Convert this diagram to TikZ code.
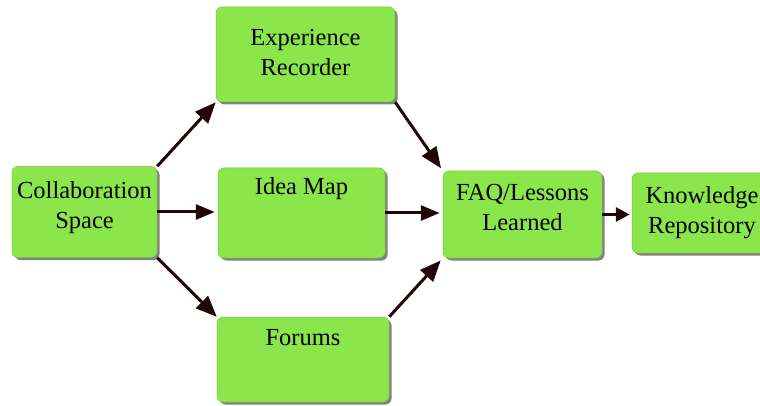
\documentclass[tikz,border=0pt]{standalone}
\usepackage{fontspec}
\setmainfont{Liberation Serif}
\newfontfamily\boxfont{Liberation Serif}
\usetikzlibrary{arrows.meta,shadows}
\definecolor{boxgreen}{RGB}{138,230,74}
\definecolor{arrowdark}{RGB}{32,6,8}

\begin{document}
\begin{tikzpicture}[x=1pt,y=-1pt,
    box/.style={rounded corners=6pt,fill=boxgreen,draw=boxgreen!85!black,line width=0.5pt,
      drop shadow={shadow xshift=2.5pt,shadow yshift=-2.5pt,fill=black!70,opacity=0.7},
      inner sep=0pt},
    lbl/.style={align=center,inner sep=0pt,font=\boxfont\fontsize{24.5}{30}\selectfont},
    flow/.style={-{Triangle[length=21pt,width=17pt]},line width=3pt,draw=arrowdark}]
  \useasboundingbox (0,0) rectangle (760,406);
  % boxes
  \node[box,minimum width=145pt,minimum height=91pt] (collab) at (84.5,212) {};
  \node[lbl] (collablbl) at ([yshift=4pt]collab.center) {Collaboration\\Space};
  \node[box,minimum width=179pt,minimum height=95pt] (exper) at (305.5,54.5) {};
  \node[lbl] (experlbl) at ([yshift=1.5pt]exper.center) {Experience\\Recorder};
  \node[box,minimum width=167pt,minimum height=90pt] (idea) at (301.5,213) {};
  \node[lbl] (idealbl) at (idea.center |- 0,189) {Idea Map};
  \node[box,minimum width=172pt,minimum height=85pt] (forums) at (303,359.5) {};
  \node[lbl] (forumslbl) at (forums.center |- 0,338) {Forums};
  \node[box,minimum width=159pt,minimum height=87pt] (faq) at (522.5,214.5) {};
  \node[lbl] (faqlbl) at ([yshift=7pt]faq.center) {FAQ/Lessons\\Learned};
  \node[box,minimum width=140pt,minimum height=80pt] (know) at (702,213) {};
  \node[lbl] (knowlbl) at (know.center) {Knowledge\\Repository};
  % arrows
  \draw[flow] (collab.north east) -- (exper.south west);
  \draw[flow,-{Triangle[length=19pt,width=15pt]},shorten >=3pt] (collab.east) -- (collab.east -| idea.west);
  \draw[flow] (collab.south east) -- (forums.north west);
  \draw[flow,shorten >=3pt] (exper.south east) -- (faq.north west);
  \draw[flow,-{Triangle[length=19pt,width=15pt]},shorten >=3pt] (idea.east) -- (idea.east -| faq.west);
  \draw[flow,shorten >=3pt] (forums.north east) -- (faq.south west);
  \draw[flow,-{Triangle[length=14pt,width=14pt]},shorten >=2pt] (faq.east) -- (faq.east -| know.west);
\end{tikzpicture}
\end{document}
